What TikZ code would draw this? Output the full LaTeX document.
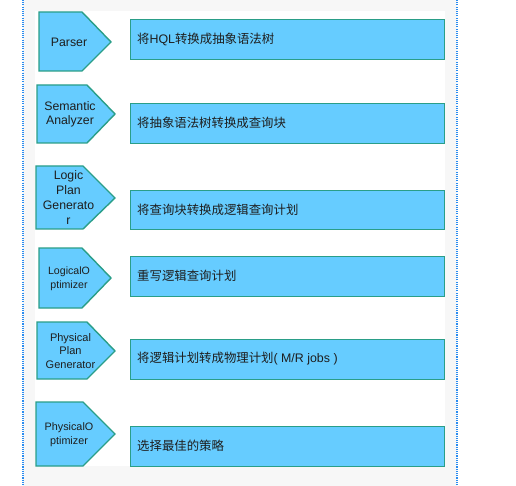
\documentclass[tikz,border=0pt]{standalone}
\usepackage{fontspec}
\setmainfont{Liberation Sans}
\newfontfamily\cjk{Noto Sans CJK SC}
\definecolor{boxfill}{HTML}{66CCFF}
\definecolor{boxline}{HTML}{2A9E88}
\definecolor{txt}{HTML}{1E1E1E}
\definecolor{pagegray}{HTML}{F7F7F7}
\definecolor{dotblue}{HTML}{2A8CF0}
\tikzset{
  stage/.style={draw=boxline, fill=boxfill, line width=1.4pt, line join=miter},
  stagetext/.style={align=center, text=txt, font=\fontsize{12.3}{14}\selectfont, inner sep=0pt},
  smalltext/.style={align=center, text=txt, font=\fontsize{10.8}{14}\selectfont, inner sep=0pt},
  desc/.style={draw=boxline, fill=boxfill, line width=1.4pt, anchor=north west, inner sep=0pt},
  desctext/.style={anchor=west, text=txt, font=\fontsize{12.4}{14}\selectfont, inner sep=0pt},
  guide/.style={draw=dotblue, line width=1.1pt, dash pattern=on 1.1pt off 1.1pt}
}
\begin{document}
\begin{tikzpicture}[x=1pt,y=-1pt]
\useasboundingbox (0,0) rectangle (516,486);
\fill[pagegray] (23,0) rectangle (457,486);
\fill[white] (35,11) rectangle (445,466);
\draw[guide] (23,0) -- (23,486);
\draw[guide] (457,0) -- (457,486);

% row 1
\draw[stage] (39,12) -- (82,12) -- (111,42) -- (82,71) -- (39,71) -- cycle;
\node[stagetext] (s1) at (69,42) {Parser};
\node[desc, minimum width=314pt, minimum height=40pt] (d1) at (130,19) {};
\node[desctext] (t1) at (137,39) {{\cjk 将}HQL{\cjk 转换成抽象语法树}};

% row 2
\draw[stage] (37,85) -- (87,85) -- (115,114) -- (87,143) -- (37,143) -- cycle;
\node[stagetext] (s2) at (70,114) {Semantic\\Analyzer};
\node[desc, minimum width=314pt, minimum height=40pt] (d2) at (130,103) {};
\node[desctext] (t2) at (137,123) {\cjk 将抽象语法树转换成查询块};

% row 3
\draw[stage] (36,166) -- (83,166) -- (115,198) -- (83,229) -- (36,229) -- cycle;
\node[stagetext, font=\fontsize{12.3}{15}\selectfont] (s3) at (68.5,198) {Logic\\Plan\\Generato\\r};
\node[desc, minimum width=314pt, minimum height=39pt] (d3) at (130,190) {};
\node[desctext] (t3) at (137,210) {\cjk 将查询块转换成逻辑查询计划};

% row 4
\draw[stage] (39,248) -- (82,248) -- (111,278) -- (82,308) -- (39,308) -- cycle;
\node[smalltext, font=\fontsize{10.6}{14}\selectfont] (s4) at (69,279) {LogicalO\\ptimizer};
\node[desc, minimum width=314pt, minimum height=40pt] (d4) at (130,256) {};
\node[desctext] (t4) at (137,276) {\cjk 重写逻辑查询计划};

% row 5
\draw[stage] (37,322) -- (87,322) -- (115,351) -- (87,379) -- (37,379) -- cycle;
\node[smalltext, font=\fontsize{11}{13.5}\selectfont] (s5) at (70.5,351) {Physical\\Plan\\Generator};
\node[desc, minimum width=314pt, minimum height=40pt] (d5) at (130,339) {};
\node[desctext] (t5) at (137,359) {{\cjk 将逻辑计划转成物理计划}( M/R jobs )};

% row 6
\draw[stage] (36,402) -- (83,402) -- (115,434) -- (83,466) -- (36,466) -- cycle;
\node[smalltext] (s6) at (69,435) {PhysicalO\\ptimizer};
\node[desc, minimum width=314pt, minimum height=40pt] (d6) at (130,426) {};
\node[desctext] (t6) at (137,446) {\cjk 选择最佳的策略};
\end{tikzpicture}
\end{document}
